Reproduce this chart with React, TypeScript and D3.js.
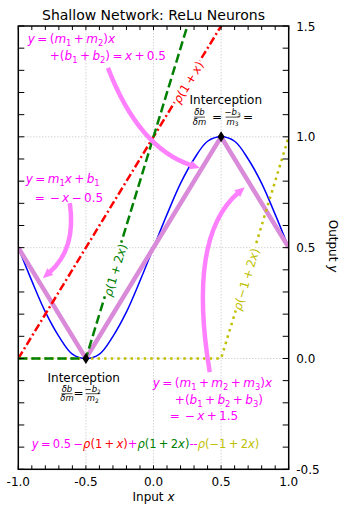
import React, { useLayoutEffect, useRef, useState } from 'react';
import * as d3 from 'd3';

const W = 341;
const H = 505;
const FONT = '"DejaVu Sans", Verdana, sans-serif';
const SP = '\u2009';

// axes
const xTicks = [-1, -0.5, 0, 0.5, 1];
const xTickLabels = ['-1.0', '-0.5', '0.0', '0.5', '1.0'];
const yTicks = [-0.5, 0, 0.5, 1, 1.5];
const yTickLabels = ['-0.5', '0.0', '0.5', '1.0', '1.5'];
const gridX = [-0.5, 0, 0.5];
const gridY = [0, 0.5, 1];

// target curve (blue)
const targetX = [-1, -0.9, -0.8, -0.7, -0.6, -0.5, -0.4, -0.3, -0.2, -0.1, 0, 0.1, 0.2, 0.3, 0.4, 0.5, 0.6, 0.7, 0.8, 0.9, 1];
const targetY = [0.5, 0.35, 0.21, 0.1, 0.02, 0, 0.02, 0.1, 0.21, 0.35, 0.5, 0.65, 0.79, 0.9, 0.98, 1, 0.98, 0.9, 0.79, 0.65, 0.5];

// relu pieces
const reluRed: [number, number][] = [[-1, 0], [1, 2]];
const reluGreen: [number, number][] = [[-1, 0], [-0.5, 0], [1, 3]];
const reluYellow: [number, number][] = [[-1, 0], [0.5, 0], [1, 1]];
const approx: [number, number][] = [[-1, 0.5], [-0.5, 0], [0.5, 1], [1, 0.5]];
const joints: [number, number][] = [[-0.5, 0], [0.5, 1]];

// annotation arrows (data coords): start, control, tip
const arrows = [
  { from: [-0.337, 1.311], ctrl: [-0.109, 0.949], to: [0.343, 0.859] },
  { from: [-0.619, 0.701], ctrl: [-0.57, 0.495], to: [-0.819, 0.362] },
  { from: [0.416, -0.062], ctrl: [0.25, 0.547], to: [0.675, 0.773] },
];

const M = '#ff00ff';
const R = '#ff0000';
const G = '#008000';
const Y = '#bfbf00';

type Tok = { t: string; k: 'r' | 'i' | 's'; c?: string };
const r = (t: string, c?: string): Tok => ({ t: t.replace(/ /g, SP), k: 'r', c });
const it = (t: string, c?: string): Tok => ({ t, k: 'i', c });
const s = (t: string, c?: string): Tok => ({ t, k: 's', c });
const plain = (t: string): Tok => ({ t, k: 'r' });

const eq1a = [it('y'), r(' = ('), it('m'), s('1'), r(' + '), it('m'), s('2'), r(')'), it('x')];
const eq1b = [r('+('), it('b'), s('1'), r(' + '), it('b'), s('2'), r(') = '), it('x'), r(' + 0.5')];
const eq2a = [it('y'), r(' = '), it('m'), s('1'), it('x'), r(' + '), it('b'), s('1')];
const eq2b = [r('=  − '), it('x'), r(' − 0.5')];
const eq3a = [it('y'), r(' = ('), it('m'), s('1'), r(' + '), it('m'), s('2'), r(' + '), it('m'), s('3'), r(')'), it('x')];
const eq3b = [r('+('), it('b'), s('1'), r(' + '), it('b'), s('2'), r(' + '), it('b'), s('3'), r(')')];
const eq3c = [r('=  − '), it('x'), r(' + 1.5')];
const eqAll = [
  it('y', M), r(' = 0.5 −', M),
  it('ρ', R), r('(1 + ', R), it('x', R), r(')', R),
  r('+', M),
  it('ρ', G), r('(1 + 2', G), it('x', G), r(')', G),
  r('--', M),
  it('ρ', Y), r('(−1 + 2', Y), it('x', Y), r(')', Y),
];
const lblRed = [it('ρ'), r('(1 + '), it('x'), r(')')];
const lblGreen = [it('ρ'), r('(1 + 2'), it('x'), r(')')];
const lblYellow = [it('ρ'), r('(−1 + 2'), it('x'), r(')')];

function MathText(props: { x: number; y: number; toks: Tok[]; size?: number; fill?: string; anchor?: string; transform?: string; tref?: any }) {
  const size = props.size || 12;
  let shift = 0;
  const kids = props.toks.map((tk, j) => {
    const want = tk.k === 's' ? size * 0.22 : 0;
    const dy = want - shift;
    shift = want;
    return (
      <tspan key={j} dy={dy} fontStyle={tk.k === 'i' ? 'italic' : 'normal'} fontSize={tk.k === 's' ? size * 0.7 : size} fill={tk.c}>
        {tk.t}
      </tspan>
    );
  });
  return (
    <text ref={props.tref} x={props.x} y={props.y} fill={props.fill} textAnchor={props.anchor || 'start'} transform={props.transform}
      fontFamily={FONT} fontSize={size} style={{ whiteSpace: 'pre' }}>
      {kids}
    </text>
  );
}

// label laid on a line, white box behind it hides the line
function LineLabel(props: { cx: number; cy: number; angle: number; toks: Tok[]; fill: string }) {
  const ref = useRef<SVGTextElement>(null);
  const [box, setBox] = useState<{ x: number; y: number; w: number; h: number } | null>(null);
  useLayoutEffect(() => {
    if (ref.current) {
      const b = ref.current.getBBox();
      setBox({ x: b.x, y: b.y, w: b.width, h: b.height });
    }
  }, []);
  return (
    <g transform={`translate(${props.cx},${props.cy}) rotate(${props.angle})`}>
      {box && <rect x={box.x - 1} y={box.y + 1.5} width={box.w + 2} height={box.h - 3} fill="#fff" />}
      <MathText tref={ref} x={0} y={3.7} toks={props.toks} fill={props.fill} anchor="middle" />
    </g>
  );
}

function Frac(props: { cx: number; bar: number; num: Tok[]; den: Tok[]; size: number; fill: string; w: number }) {
  return (
    <g>
      <MathText x={props.cx} y={props.bar - 2} toks={props.num} size={props.size} fill={props.fill} anchor="middle" />
      <line x1={props.cx - props.w / 2} x2={props.cx + props.w / 2} y1={props.bar} y2={props.bar} stroke={props.fill} strokeWidth={0.7} />
      <MathText x={props.cx} y={props.bar + 7.5} toks={props.den} size={props.size} fill={props.fill} anchor="middle" />
    </g>
  );
}

export default function App() {
  const x = d3.scaleLinear().domain([-1, 1]).range([18.3, 288.7]);
  const y = d3.scaleLinear().domain([-0.5, 1.5]).range([469.3, 26]);
  const [x0, x1] = x.range();
  const [y0, y1] = y.range();

  const line = d3.line<[number, number]>().x((d) => x(d[0])).y((d) => y(d[1]));
  const smooth = d3.line<number>().x((d, i) => x(targetX[i])).y((d) => y(d)).curve(d3.curveCatmullRom.alpha(0.5));

  const minorX = d3.range(-10, 11).map((k) => k / 10);
  const minorY = d3.range(-5, 16).map((k) => k / 10);

  const slope = (pts: [number, number][]) => {
    const a = pts[pts.length - 2];
    const b = pts[pts.length - 1];
    return (Math.atan2(y(b[1]) - y(a[1]), x(b[0]) - x(a[0])) * 180) / Math.PI;
  };

  const arrowShapes = arrows.map((a, k) => {
    const p0 = [x(a.from[0]), y(a.from[1])];
    const c = [x(a.ctrl[0]), y(a.ctrl[1])];
    const p2 = [x(a.to[0]), y(a.to[1])];
    const dx = p2[0] - c[0];
    const dy = p2[1] - c[1];
    const len = Math.hypot(dx, dy);
    const ux = dx / len;
    const uy = dy / len;
    const L = 10;
    const hw = 4.5;
    const b = [p2[0] - ux * L, p2[1] - uy * L];
    const p = d3.path();
    p.moveTo(p0[0], p0[1]);
    p.quadraticCurveTo(c[0], c[1], b[0] + ux * 1, b[1] + uy * 1);
    const head = `M${p2[0]},${p2[1]}L${b[0] - uy * hw},${b[1] + ux * hw}L${b[0] + uy * hw},${b[1] - ux * hw}Z`;
    return (
      <g key={k}>
        <path d={p.toString()} fill="none" stroke="#ff80ff" strokeWidth={4.5} />
        <path d={head} fill="#ff80ff" />
      </g>
    );
  });

  return (
    <svg width={W} height={H} style={{ position: 'absolute', left: 0, top: 0, background: '#fff' }} fontFamily={FONT}>
      <defs>
        <clipPath id="plot">
          <rect x={x0} y={y1} width={x1 - x0} height={y0 - y1} />
        </clipPath>
      </defs>
      <rect width={W} height={H} fill="#fff" />

      {/* grid */}
      {gridX.map((v) => (
        <line key={'gx' + v} x1={x(v)} x2={x(v)} y1={y0} y2={y1} stroke="#b0b0b0" strokeWidth={0.8} strokeDasharray="1,2" />
      ))}
      {gridY.map((v) => (
        <line key={'gy' + v} x1={x0} x2={x1} y1={y(v)} y2={y(v)} stroke="#b0b0b0" strokeWidth={0.8} strokeDasharray="1,2" />
      ))}

      <g clipPath="url(#plot)">
        <path d={smooth(targetY) || ''} fill="none" stroke="#0000ff" strokeWidth={1.5} />
        <path d={line(approx) || ''} fill="none" stroke="#d98ad9" strokeWidth={4.5} strokeLinejoin="miter" />
        <path d={line(reluRed) || ''} fill="none" stroke={R} strokeWidth={2.5} strokeDasharray="8,3,2,3" />
        <path d={line(reluYellow) || ''} fill="none" stroke={Y} strokeWidth={2.5} strokeDasharray="2.5,4.1" />
        <path d={line(reluGreen) || ''} fill="none" stroke={G} strokeWidth={2.5} strokeDasharray="9,4" />
        {arrowShapes}
      </g>

      {joints.map((d, k) => (
        <path key={k} transform={`translate(${x(d[0])},${y(d[1])})`} d="M0,-5.5L3.5,0L0,5.5L-3.5,0Z" fill="#000" />
      ))}

      {/* ticks */}
      {minorX.map((v) => (
        <g key={'tx' + v}>
          <line x1={x(v)} x2={x(v)} y1={y0} y2={y0 - 4} stroke="#000" strokeWidth={1} />
          <line x1={x(v)} x2={x(v)} y1={y1} y2={y1 + 4} stroke="#000" strokeWidth={1} />
        </g>
      ))}
      {minorY.map((v) => (
        <g key={'ty' + v}>
          <line x1={x0} x2={x0 + 6} y1={y(v)} y2={y(v)} stroke="#000" strokeWidth={1} />
          <line x1={x1} x2={x1 - 6} y1={y(v)} y2={y(v)} stroke="#000" strokeWidth={1} />
        </g>
      ))}
      <rect x={x0} y={y1} width={x1 - x0} height={y0 - y1} fill="none" stroke="#000" strokeWidth={1.5} />

      {xTicks.map((v, k) => (
        <text key={'lx' + v} x={x(v)} y={y0 + 17} textAnchor="middle" fontSize={12} fill="#000">{xTickLabels[k]}</text>
      ))}
      {yTicks.map((v, k) => (
        <text key={'ly' + v} x={x1 + 7.5} y={y(v) + 4.5} textAnchor="start" fontSize={12} fill="#000">{yTickLabels[k]}</text>
      ))}

      <text x={(x0 + x1) / 2} y={19.5} textAnchor="middle" fontSize={14} fill="#000">Shallow Network: ReLu Neurons</text>
      <MathText x={(x0 + x1) / 2} y={501} toks={[plain('Input '), it('x')]} anchor="middle" fill="#000" />
      <MathText x={0} y={0} toks={[plain('Output '), it('y')]} anchor="middle" fill="#000" transform={`translate(329,246) rotate(90)`} />

      {/* equations */}
      <MathText x={x(-0.93)} y={y(1.423)} toks={eq1a} fill={M} />
      <MathText x={x(-0.767)} y={y(1.347)} toks={eq1b} fill={M} />
      <MathText x={x(-0.945)} y={y(0.791)} toks={eq2a} fill={M} />
      <MathText x={x(-0.878)} y={y(0.706)} toks={eq2b} fill={M} />
      <MathText x={x(-0.005)} y={y(-0.13)} toks={eq3a} fill={M} />
      <MathText x={x(0.158)} y={y(-0.207)} toks={eq3b} fill={M} />
      <MathText x={x(0.121)} y={y(-0.279)} toks={eq3c} fill={M} />
      <MathText x={x(-0.9)} y={y(-0.405)} toks={eqAll} fill={M} size={11.5} />

      {/* relu labels sitting on their lines */}
      <LineLabel cx={x(0.261)} cy={y(1.245)} angle={slope(reluRed)} toks={lblRed} fill={R} />
      <LineLabel cx={x(-0.279)} cy={y(0.398)} angle={slope(reluGreen)} toks={lblGreen} fill={G} />
      <LineLabel cx={x(0.69)} cy={y(0.357)} angle={slope(reluYellow)} toks={lblYellow} fill={Y} />

      {/* interceptions */}
      <text x={x(0.535)} y={y(1.148)} textAnchor="middle" fontSize={12} fill="#000">Interception</text>
      <Frac cx={x(0.34)} bar={y(1.089)} num={[it('δb')]} den={[it('δm')]} size={8.5} fill="#000" w={11} />
      <MathText x={x(0.47)} y={y(1.089) + 3.5} toks={[r('=')]} fill="#000" anchor="middle" />
      <Frac cx={x(0.585)} bar={y(1.089)} num={[r('−'), it('b'), s('3')]} den={[it('m'), s('3')]} size={8.5} fill="#000" w={14} />
      <MathText x={x(0.7)} y={y(1.089) + 3.5} toks={[r('=')]} fill="#000" anchor="middle" />

      <text x={x(-0.516)} y={y(-0.107)} textAnchor="middle" fontSize={12} fill="#000">Interception</text>
      <Frac cx={x(-0.64)} bar={y(-0.159)} num={[it('δb')]} den={[it('δm')]} size={8.5} fill="#000" w={11} />
      <MathText x={x(-0.555)} y={y(-0.159) + 3.5} toks={[r('=')]} fill="#000" anchor="middle" />
      <Frac cx={x(-0.45)} bar={y(-0.159)} num={[r('−'), it('b'), s('2')]} den={[it('m'), s('2')]} size={8.5} fill="#000" w={14} />
    </svg>
  );
}
